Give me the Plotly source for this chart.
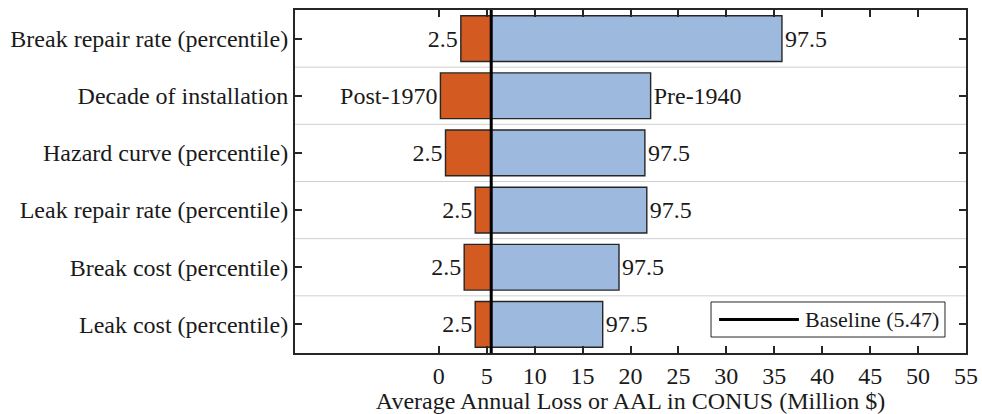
import plotly.graph_objects as go

categories = ["Break repair rate (percentile)", "Decade of installation",
              "Hazard curve (percentile)", "Leak repair rate (percentile)",
              "Break cost (percentile)", "Leak cost (percentile)"]
low_values = [2.3, 0.17, 0.7, 3.8, 2.65, 3.8]
high_values = [35.8, 22.1, 21.5, 21.7, 18.8, 17.1]
low_labels = ["2.5", "Post-1970", "2.5", "2.5", "2.5", "2.5"]
high_labels = ["97.5", "Pre-1940", "97.5", "97.5", "97.5", "97.5"]
baseline = 5.47
x_ticks = [0, 5, 10, 15, 20, 25, 30, 35, 40, 45, 50, 55]

FONT = "Liberation Serif"
FS = 24
TXT = "#1a1a1a"
ypos = list(range(len(categories)))

fig = go.Figure()
fig.add_trace(go.Bar(
    y=ypos, x=[v - baseline for v in low_values], base=baseline, orientation="h",
    marker=dict(color="#D35A20", line=dict(color="#262626", width=1.4)),
    width=0.8, text=low_labels, textposition="outside", cliponaxis=False,
    textfont=dict(family=FONT, size=FS, color=TXT), showlegend=False))
fig.add_trace(go.Bar(
    y=ypos, x=[v - baseline for v in high_values], base=baseline, orientation="h",
    marker=dict(color="#9EB9DE", line=dict(color="#262626", width=1.4)),
    width=0.8, text=high_labels, textposition="outside", cliponaxis=False,
    textfont=dict(family=FONT, size=FS, color=TXT), showlegend=False))
fig.add_trace(go.Scatter(
    x=[baseline, baseline], y=[-0.5, len(categories) - 0.5], mode="lines",
    line=dict(color="black", width=3), showlegend=False))

# light separators between categories
for i in range(len(categories) - 1):
    fig.add_shape(type="line", xref="paper", yref="y", x0=0, x1=1, y0=i + 0.5, y1=i + 0.5,
                  line=dict(color="#cfcfcf", width=1), layer="below")

# manual legend box
fig.add_shape(type="rect", xref="paper", yref="paper", x0=0.62, x1=0.9687, y0=0.0466, y1=0.1487,
              line=dict(color="#262626", width=1), fillcolor="white")
fig.add_shape(type="line", xref="paper", yref="paper", x0=0.632, x1=0.751, y0=0.0977, y1=0.0977,
              line=dict(color="black", width=3))
fig.add_annotation(xref="paper", yref="paper", x=0.757, y=0.0977, xanchor="left", yanchor="middle",
                   text="Baseline (5.47)", showarrow=False,
                   font=dict(family=FONT, size=22, color=TXT))

fig.update_layout(
    width=982, height=414, margin=dict(l=295, r=16, t=10, b=61),
    plot_bgcolor="white", paper_bgcolor="white", barmode="overlay",
    font=dict(family=FONT, size=FS, color=TXT),
    xaxis=dict(range=[-15, 55], tickvals=x_ticks, ticks="inside", ticklen=7, tickwidth=2,
               tickcolor="#262626", showline=True, linewidth=2, linecolor="#262626",
               mirror="ticks", showgrid=False, zeroline=False, automargin=False,
               title=dict(text="Average Annual Loss or AAL in CONUS (Million $)", standoff=5,
                          font=dict(family=FONT, size=FS, color=TXT)),
               tickfont=dict(family=FONT, size=FS, color=TXT)),
    yaxis=dict(range=[len(categories) - 0.5, -0.5], tickvals=ypos, ticktext=categories,
               ticks="inside", ticklen=7, tickwidth=2, tickcolor="#262626",
               showline=True, linewidth=2, linecolor="#262626", mirror="ticks",
               showgrid=False, zeroline=False, automargin=False,
               tickfont=dict(family=FONT, size=FS, color=TXT)),
)
fig.write_html("out.html")
